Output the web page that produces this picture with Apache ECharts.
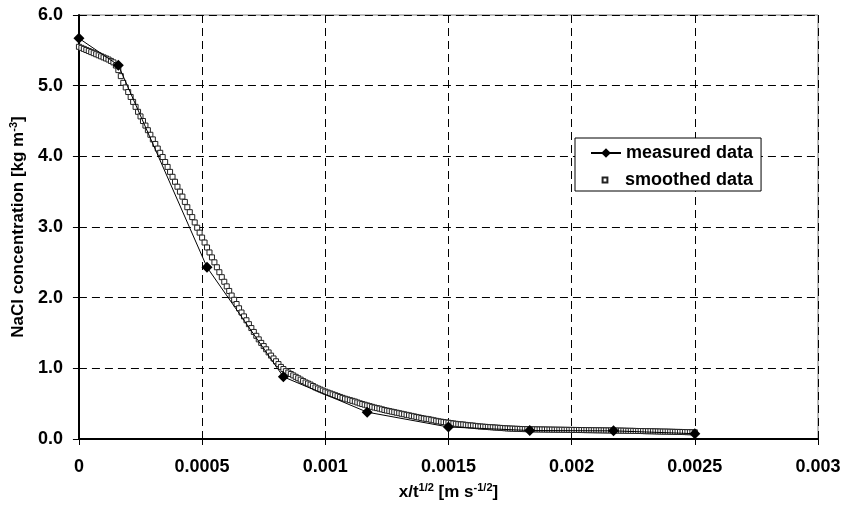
<!DOCTYPE html>
<html>
<head>
<meta charset="utf-8">
<script src="https://cdn.jsdelivr.net/npm/echarts@6/dist/echarts.min.js"></script>
<style>
  html, body { margin: 0; padding: 0; background: #fff; }
  #chart { width: 844px; height: 508px; }
</style>
</head>
<body>
<div id="chart"></div>
<script>
// measured profile (diamonds joined by a thin line)
var measuredX = [0, 0.00016, 0.00052, 0.00083, 0.00117, 0.0015, 0.00183, 0.00217, 0.0025];
var measuredC = [5.67, 5.29, 2.43, 0.88, 0.38, 0.17, 0.12, 0.115, 0.075];

// smoothed profile, one value every 0.00001 starting at 0
var smoothStart = 0;
var smoothStep = 0.00001;
var smoothC = [
  5.55, 5.535, 5.52, 5.505, 5.49, 5.475, 5.46, 5.445, 5.43, 5.415,
  5.40, 5.385, 5.37, 5.35, 5.33, 5.285, 5.22, 5.135, 5.04, 4.975,
  4.91, 4.84, 4.77, 4.70, 4.63, 4.565, 4.50, 4.435, 4.37, 4.305,
  4.24, 4.175, 4.11, 4.05, 3.99, 3.92, 3.85, 3.78, 3.71, 3.64,
  3.57, 3.50, 3.43, 3.355, 3.28, 3.21, 3.14, 3.065, 2.99, 2.92,
  2.85, 2.78, 2.71, 2.64, 2.57, 2.50, 2.43, 2.36, 2.29, 2.225,
  2.16, 2.095, 2.03, 1.97, 1.91, 1.85, 1.79, 1.735, 1.68, 1.625,
  1.57, 1.515, 1.46, 1.41, 1.36, 1.315, 1.27, 1.225, 1.18, 1.14,
  1.10, 1.06, 1.02, 0.99, 0.96, 0.94, 0.92, 0.90, 0.88, 0.86,
  0.84, 0.82, 0.80, 0.785, 0.77, 0.75, 0.73, 0.715, 0.70, 0.685,
  0.67, 0.657, 0.645, 0.632, 0.62, 0.607, 0.595, 0.582, 0.57, 0.56,
  0.55, 0.54, 0.53, 0.517, 0.505, 0.495, 0.485, 0.475, 0.465, 0.455,
  0.445, 0.437, 0.43, 0.42, 0.41, 0.402, 0.395, 0.387, 0.38, 0.372,
  0.365, 0.357, 0.35, 0.342, 0.335, 0.327, 0.32, 0.312, 0.305, 0.297,
  0.29, 0.285, 0.28, 0.272, 0.265, 0.257, 0.25, 0.245, 0.24, 0.235,
  0.23, 0.225, 0.22, 0.215, 0.21, 0.207, 0.205, 0.20, 0.195, 0.192,
  0.19, 0.185, 0.18, 0.177, 0.175, 0.172, 0.17, 0.167, 0.165, 0.162,
  0.16, 0.157, 0.155, 0.152, 0.15, 0.148, 0.147, 0.145, 0.144, 0.142,
  0.141, 0.14, 0.139, 0.138, 0.137, 0.136, 0.136, 0.135, 0.135, 0.134,
  0.134, 0.133, 0.133, 0.132, 0.132, 0.131, 0.131, 0.13, 0.13, 0.129,
  0.129, 0.128, 0.128, 0.127, 0.127, 0.126, 0.126, 0.125, 0.125, 0.124,
  0.124, 0.123, 0.123, 0.122, 0.122, 0.121, 0.121, 0.12, 0.12, 0.119,
  0.119, 0.118, 0.117, 0.116, 0.116, 0.115, 0.114, 0.113, 0.113, 0.112,
  0.111, 0.11, 0.11, 0.109, 0.108, 0.107, 0.106, 0.105, 0.105, 0.104,
  0.103, 0.102, 0.101, 0.10, 0.10, 0.099, 0.098, 0.097, 0.096, 0.095,
  0.095
];

var xTicks = [0, 0.0005, 0.001, 0.0015, 0.002, 0.0025, 0.003];
var yTicks = [0, 1, 2, 3, 4, 5, 6];

var FONT = "'Liberation Sans', Arial, sans-serif";

var myChart = echarts.init(document.getElementById("chart"));

var measured = [];
for (var i = 0; i < measuredX.length; i++) {
  measured.push([measuredX[i], measuredC[i]]);
}
var smoothed = [];
for (var j = 0; j < smoothC.length; j++) {
  smoothed.push([smoothStart + j * smoothStep, smoothC[j]]);
}

var nameRich = {
  b: { fontSize: 17, fontWeight: "bold", fontFamily: FONT, color: "#000", lineHeight: 21 },
  s: { fontSize: 11, fontWeight: "bold", fontFamily: FONT, color: "#000", verticalAlign: "top", lineHeight: 21, padding: [0, 0, 8, 0] }
};

var option = {
  animation: false,
  backgroundColor: "#fff",
  grid: {
    left: 78,
    right: 26,
    top: 15,
    bottom: 69,
    show: true,
    borderColor: "#808080",
    borderWidth: 1,
    backgroundColor: "transparent"
  },
  legend: [
    {
      // box + first row
      data: ["measured data"],
      orient: "vertical",
      left: 575,
      top: 138,
      padding: [6, 8, 29, 15],
      itemWidth: 30,
      itemHeight: 12,
      itemGap: 5,
      backgroundColor: "#fff",
      borderColor: "#000",
      borderWidth: 1,
      borderRadius: 0,
      textStyle: { fontSize: 18, fontWeight: "bold", fontFamily: FONT, color: "#000" }
    },
    {
      data: ["smoothed data"],
      orient: "vertical",
      left: 575,
      top: 171,
      z: 6,
      padding: [0, 8, 0, 15],
      itemWidth: 30,
      itemHeight: 6,
      textStyle: { fontSize: 18, fontWeight: "bold", fontFamily: FONT, color: "#000" }
    }
  ],
  xAxis: {
    type: "value",
    min: xTicks[0],
    max: xTicks[xTicks.length - 1],
    interval: 0.0005,
    name: "{b|x/t}{s|1/2}{b| [m s}{s|-1/2}{b|]}",
    nameLocation: "middle",
    nameGap: 43,
    nameTextStyle: { rich: nameRich },
    axisLine: { show: true, onZero: false, lineStyle: { color: "#000", width: 2 } },
    axisTick: { show: true, inside: false, length: 6, lineStyle: { color: "#000", width: 1 } },
    axisLabel: {
      margin: 19,
      fontSize: 18,
      fontWeight: "bold",
      fontFamily: FONT,
      color: "#000",
      formatter: function (v) { return String(+v.toFixed(4)); }
    },
    splitLine: { show: true, lineStyle: { color: "#000", width: 1, type: [8, 5] } }
  },
  yAxis: {
    type: "value",
    min: yTicks[0],
    max: yTicks[yTicks.length - 1],
    interval: 1,
    name: "{b|NaCl concentration [kg m}{s|-3}{b|]}",
    nameLocation: "middle",
    nameGap: 41,
    nameTextStyle: { rich: nameRich },
    axisLine: { show: true, onZero: false, lineStyle: { color: "#000", width: 2 } },
    axisTick: { show: true, inside: false, length: 6, lineStyle: { color: "#000", width: 1 } },
    axisLabel: {
      margin: 16,
      fontSize: 18,
      fontWeight: "bold",
      fontFamily: FONT,
      color: "#000",
      formatter: function (v) { return v.toFixed(1); }
    },
    splitLine: { show: true, lineStyle: { color: "#000", width: 1, type: [8, 5] } }
  },
  series: [
    {
      name: "smoothed data",
      type: "line",
      data: smoothed,
      symbol: "rect",
      symbolSize: 5,
      showSymbol: true,
      showAllSymbol: true,
      lineStyle: { width: 0, color: "#000" },
      itemStyle: { color: "#fff", borderColor: "#222", borderWidth: 1 },
      z: 2
    },
    {
      name: "measured data",
      type: "line",
      data: measured,
      symbol: "diamond",
      symbolSize: 11,
      showSymbol: true,
      lineStyle: { width: 1, color: "#000" },
      itemStyle: { color: "#000" },
      z: 3
    }
  ]
};

myChart.setOption(option);
</script>
</body>
</html>
